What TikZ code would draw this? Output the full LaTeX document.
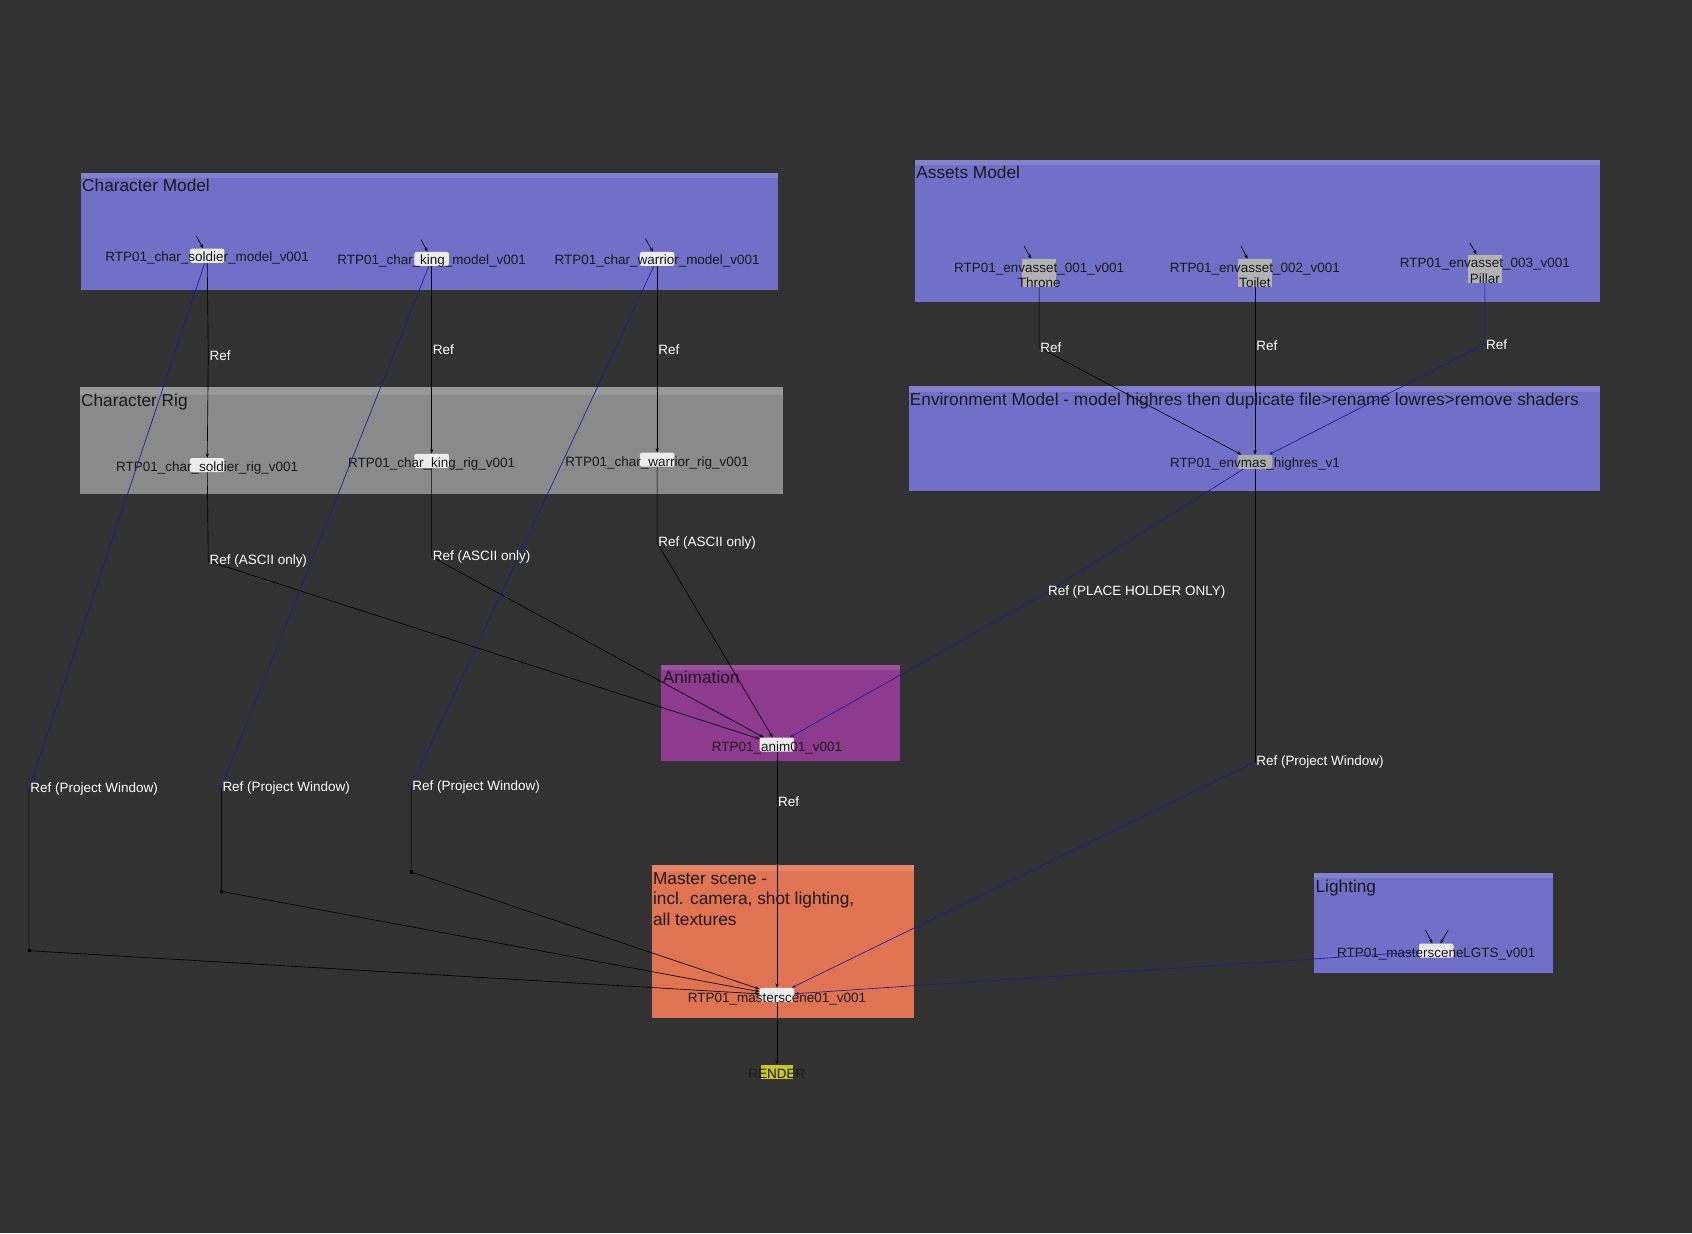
\documentclass[tikz,border=0pt]{standalone}
\usepackage{fontspec}
\setmainfont{Liberation Sans}
\usetikzlibrary{arrows.meta}
\definecolor{bg}{HTML}{323232}
\definecolor{grpblue}{HTML}{7070C8}
\definecolor{grpgray}{HTML}{8A8A8A}
\definecolor{grppurple}{HTML}{8E3A8E}
\definecolor{grporange}{HTML}{E07352}
\definecolor{lnblue}{HTML}{1A1AA0}
\definecolor{rendery}{HTML}{C8C81A}
\begin{document}
\begin{tikzpicture}[x=1pt,y=-1pt,
  grp/.style={draw=none,minimum width=#1,anchor=north west,inner sep=0},
  gtitle/.style={anchor=north west,inner sep=1pt,font=\fontsize{16}{19}\selectfont,text=black!90},
  nd/.style={rounded corners=2pt,fill=white!85!gray,minimum width=32pt,minimum height=13pt,inner sep=0},
  ndg/.style={fill=gray!60,minimum width=32pt,minimum height=26pt,inner sep=0},
  nlab/.style={font=\fontsize{12.5}{14}\selectfont,text=black!90,inner sep=0},
  rl/.style={font=\fontsize{12.5}{14}\selectfont,text=white!92,anchor=west,inner sep=1pt},
  bl/.style={black,line width=0.6pt},
  bb/.style={lnblue,line width=0.6pt},
  arr/.style={-{Stealth[length=4pt,width=3pt]}},
  dot/.style={fill=black,inner sep=0,minimum size=3pt}]
\fill[bg] (0,0) rectangle (1568,1143);
\useasboundingbox (0,0) rectangle (1568,1143);
% groups
\fill[grpblue] (75,160) rectangle (721,269); \fill[white,opacity=0.12] (75,160) rectangle (721,165);
\node[gtitle] (tcm) at (75,165) {Character Model};
\fill[grpgray] (74,359) rectangle (726,458); \fill[white,opacity=0.12] (74,359) rectangle (726,366);
\node[gtitle] (tcr) at (74,364) {Character Rig};
\fill[grpblue] (848,148) rectangle (1483,280); \fill[white,opacity=0.12] (848,148) rectangle (1483,153);
\node[gtitle] (tam) at (848,153) {Assets Model};
\fill[grpblue] (842,358) rectangle (1483,455); \fill[white,opacity=0.12] (842,358) rectangle (1483,363);
\node[gtitle] (tem) at (842,363) {Environment Model - model highres then duplicate file>rename lowres>remove shaders};
\fill[grppurple] (613,616) rectangle (834,705); \fill[white,opacity=0.12] (613,616) rectangle (834,621);
\node[gtitle] (tan) at (613,621) {Animation};
\fill[grporange] (604,802) rectangle (847,943); \fill[white,opacity=0.12] (604,802) rectangle (847,807);
\node[gtitle,align=left] (tms) at (604,807) {Master scene -\\incl. camera, shot lighting,\\all textures};
\fill[grpblue] (1218,809) rectangle (1439,902); \fill[white,opacity=0.12] (1218,809) rectangle (1439,814);
\node[gtitle] (tli) at (1218,814) {Lighting};
% nodes
\node[nd] (sm) at (192,237) {}; \node[nlab] at (192,239) {RTP01\_char\_soldier\_model\_v001};
\node[nd] (km) at (400,240) {}; \node[nlab] at (400,242) {RTP01\_char\_king\_model\_v001};
\node[nd] (wm) at (609,240) {}; \node[nlab] at (609,242) {RTP01\_char\_warrior\_model\_v001};
\node[nd] (sr) at (192,431) {}; \node[nlab] at (192,434) {RTP01\_char\_soldier\_rig\_v001};
\node[nd] (kr) at (400,427) {}; \node[nlab] at (400,430) {RTP01\_char\_king\_rig\_v001};
\node[nd] (wr) at (609,426) {}; \node[nlab] at (609,429) {RTP01\_char\_warrior\_rig\_v001};
\node[ndg] (a1) at (963,253) {}; \node[nlab,align=center] at (963,255) {RTP01\_envasset\_001\_v001\\Throne};
\node[ndg] (a2) at (1163,253) {}; \node[nlab,align=center] at (1163,255) {RTP01\_envasset\_002\_v001\\Toilet};
\node[ndg] (a3) at (1376,249) {}; \node[nlab,align=center] at (1376,251) {RTP01\_envasset\_003\_v001\\Pillar};
\node[nd,fill=gray!65] (env) at (1163,428) {}; \node[nlab] at (1163,430) {RTP01\_envmas\_highres\_v1};
\node[nd] (anim) at (720,690) {}; \node[nlab] at (720,693) {RTP01\_anim01\_v001};
\node[nd] (ms) at (720,922) {}; \node[nlab] at (720,926) {RTP01\_masterscene01\_v001};
\node[nd] (lg) at (1331,881) {}; \node[nlab] at (1331,884) {RTP01\_mastersceneLGTS\_v001};
\node[fill=rendery,minimum width=30pt,minimum height=13pt,inner sep=0] (rn) at (720,993) {};
\node[nlab] at (720,995) {RENDER};
% ref points
\coordinate (r1) at (193,330); \coordinate (r2) at (400,324); \coordinate (r3) at (609,324);
\coordinate (r4) at (963,322); \coordinate (r5) at (1163,320); \coordinate (r6) at (1376,319);
\coordinate (a1r) at (193,520); \coordinate (a2r) at (400,516); \coordinate (a3r) at (609,503);
\coordinate (ph) at (970,549); \coordinate (ar) at (720,743);
\coordinate (p1) at (27,731); \coordinate (p2) at (205,730); \coordinate (p3) at (381,729); \coordinate (p4) at (1163,706);
\coordinate (c1) at (27,881); \coordinate (c2) at (205,826); \coordinate (c3) at (381,808);
\coordinate (in1) at (182,219); \coordinate (in2) at (390,222); \coordinate (in3) at (598,221);
\coordinate (in4) at (949,228); \coordinate (in5) at (1150,228); \coordinate (in6) at (1362,225);
\coordinate (in7) at (1321,862); \coordinate (in8) at (1342,862);
% edges
\draw[bl,arr] (in1) -- (sm); \draw[bl,arr] (in2) -- (km); \draw[bl,arr] (in3) -- (wm);
\draw[bl,arr] (in4) -- (a1); \draw[bl,arr] (in5) -- (a2); \draw[bl,arr] (in6) -- (a3);
\draw[bl,arr] (in7) -- (lg); \draw[bl,arr] (in8) -- (lg);
\foreach \a/\r/\b in {sm/r1/sr,km/r2/kr,wm/r3/wr}{\draw[bl,arr] (\a) -- (\r) -- (\b);}
\draw[bl,arr] (a1) -- (r4) -- (env); \draw[bl,arr] (a2) -- (r5) -- (env); \draw[bb,arr] (a3) -- (r6) -- (env);
\draw[bl,arr] (sr) -- (a1r) -- (anim); \draw[bl,arr] (kr) -- (a2r) -- (anim); \draw[bl,arr] (wr) -- (a3r) -- (anim);
\draw[bb,arr] (env) -- (ph) -- (anim);
\draw[bl,arr] (anim) -- (ar) -- (ms);
\draw[bb] (sm) -- (p1); \draw[bl,arr] (p1) -- (c1) -- (ms);
\draw[bb] (km) -- (p2); \draw[bl,arr] (p2) -- (c2) -- (ms);
\draw[bb] (wm) -- (p3); \draw[bl,arr] (p3) -- (c3) -- (ms);
\draw[bl] (env) -- (p4); \draw[bb,arr] (p4) -- (ms);
\draw[bb,arr] (lg) -- (ms);
\draw[bl,arr] (ms) -- (rn);
\foreach \c in {c1,c2,c3} \node[dot] at (\c) {};
% ref labels
\node[rl] at (r1) {Ref}; \node[rl] at (r2) {Ref}; \node[rl] at (r3) {Ref};
\node[rl] at (r4) {Ref}; \node[rl] at (r5) {Ref}; \node[rl] at (r6) {Ref};
\node[rl] at (a1r) {Ref (ASCII only)}; \node[rl] at (a2r) {Ref (ASCII only)}; \node[rl] at (a3r) {Ref (ASCII only)};
\node[rl] at (ph) {Ref (PLACE HOLDER ONLY)}; \node[rl] at (ar) {Ref};
\node[rl] at (p1) {Ref (Project Window)}; \node[rl] at (p2) {Ref (Project Window)};
\node[rl] at (p3) {Ref (Project Window)}; \node[rl] at (p4) {Ref (Project Window)};
\end{tikzpicture}
\end{document}
